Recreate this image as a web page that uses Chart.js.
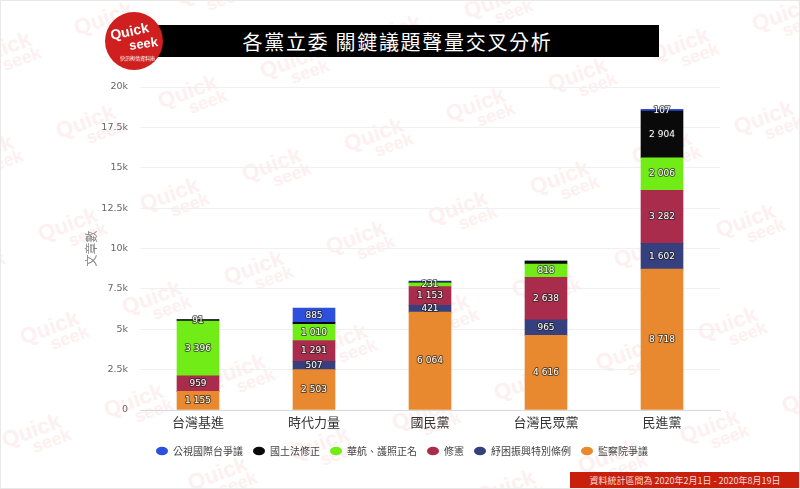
<!DOCTYPE html>
<html lang="zh-Hant">
<head>
<meta charset="utf-8">
<title>各黨立委 關鍵議題聲量交叉分析</title>
<script src="https://cdn.jsdelivr.net/npm/chart.js@4"></script>
<style>
    html, body { margin: 0; padding: 0; background: #ffffff; }
    #pagina {
        position: relative; width: 800px; height: 489px; overflow: hidden; background: #ffffff;
        font-family: "Noto Sans CJK TC", sans-serif;
    }
    #marcas { position: absolute; inset: 0; }
    .marca {
        position: absolute; width: 90px; height: 46px; transform: rotate(-20deg);
        font-family: "Liberation Sans", sans-serif; font-weight: bold; color: #fdf0f0; line-height: 17px;
    }
    .marca span { display: block; font-size: 22px; }
    .marca span + span { font-size: 18px; padding-left: 26px; }
    #grafico { position: absolute; left: 0; top: 0; }
    #barraTitulo {
        position: absolute; left: 150px; top: 25px; width: 509px; height: 32px; background: #000000;
        color: #ffffff; font-size: 20px; line-height: 34px; letter-spacing: 1.7px; text-align: center;
        text-indent: -14px; white-space: pre;
    }
    #logo {
        position: absolute; left: 105px; top: 12px; width: 58px; height: 58px; border-radius: 50%;
        background: #cf1f1f; color: #ffffff; font-family: "Liberation Sans", sans-serif; font-weight: bold;
    }
    #logo div { position: absolute; white-space: nowrap; }
    #logoQuick { left: 5px; top: 11px; font-size: 14px; transform: rotate(-12deg); }
    #logoSeek { left: 24px; top: 24px; font-size: 13px; transform: rotate(-8deg); }
    #logoSub { left: 15px; top: 42px; font-size: 5px; font-family: "Noto Sans CJK TC", sans-serif; font-weight: normal; }
    #periodo {
        position: absolute; left: 570px; top: 472px; width: 230px; height: 17px; background: #c8200c;
        color: #f6dcd6; font-family: "Noto Sans CJK TC", serif; font-size: 9px; line-height: 17px;
        text-align: center;
    }
    #bordas { position: absolute; inset: 0; border: 1px solid #e8e8e8; pointer-events: none; }
</style>
</head>
<body>
<div id="pagina">
    <div id="marcas"></div>
    <canvas id="grafico" width="800" height="489"></canvas>
    <div id="barraTitulo">各黨立委 關鍵議題聲量交叉分析</div>
    <div id="logo">
        <div id="logoQuick">Quick</div>
        <div id="logoSeek">seek</div>
        <div id="logoSub">快訊輿情資料庫</div>
    </div>
    <div id="periodo">資料統計區間為 2020年2月1日 - 2020年8月19日</div>
    <div id="bordas"></div>
</div>

<script>
/* Dados */
const categorias = ['台灣基進', '時代力量', '國民黨', '台灣民眾黨', '民進黨'];
const monitoria = [1155, 2503, 6064, 4616, 8718];
const alivio = [0, 507, 421, 965, 1602];
const constituicao = [959, 1291, 1153, 2638, 3282];
const companhia = [3396, 1010, 231, 818, 2006];
const territorio = [91, 115, 60, 190, 2904];
const televisao = [0, 885, 60, 0, 107];
const nomesSeries = ['監察院爭議', '紓困振興特別條例', '修憲', '華航、護照正名', '國土法修正', '公視國際台爭議'];
const coresSeries = ['#e8892f', '#36407f', '#a92c4d', '#72ec17', '#0a0a0a', '#2c4fdc'];
const marcasEixo = ['0', '2.5k', '5k', '7.5k', '10k', '12.5k', '15k', '17.5k', '20k'];
const semEtiqueta = ['國土法修正|時代力量', '國土法修正|國民黨', '公視國際台爭議|國民黨', '國土法修正|台灣民眾黨'];

/* Marca de água repetida por trás do gráfico */
function criarMarcas() {
    const marcas = document.getElementById('marcas');

    for (let i = -6; i <= 10; i++) {
        for (let j = -6; j <= 10; j++) {
            const x = 290 + i * 102 - j * 18 - 45;
            const y = 173 - i * 30 + j * 103 - 23;

            if (x < -90 || x > 800 || y < -46 || y > 489) continue;

            const marca = document.createElement('div');
            marca.className = 'marca';
            marca.style.left = x + 'px';
            marca.style.top = y + 'px';
            marca.innerHTML = '<span>Quick</span><span>seek</span>';
            marcas.appendChild(marca);
        }
    }
}

/* Etiquetas brancas com contorno dentro de cada segmento */
const etiquetasBarras = {
    id: 'etiquetasBarras',
    afterDatasetsDraw: function (chart) {
        const ctx = chart.ctx;

        ctx.save();
        ctx.font = '9px "DejaVu Sans"';
        ctx.textAlign = 'center';
        ctx.textBaseline = 'middle';
        ctx.lineJoin = 'round';

        chart.data.datasets.forEach(function (serie, s) {
            chart.getDatasetMeta(s).data.forEach(function (barra, c) {
                const valor = serie.data[c];

                if (!valor || semEtiqueta.includes(serie.label + '|' + categorias[c])) return;

                const texto = String(valor).replace(/\B(?=(\d{3})+$)/g, ' ');
                const y = (barra.y + barra.base) / 2;

                ctx.lineWidth = 2;
                ctx.strokeStyle = 'rgba(30,30,30,0.65)';
                ctx.strokeText(texto, barra.x, y);
                ctx.fillStyle = '#ffffff';
                ctx.fillText(texto, barra.x, y);
            });
        });

        ctx.restore();
    }
};

/* Gráfico de barras empilhadas */
function criarGrafico() {
    const valoresSeries = [monitoria, alivio, constituicao, companhia, territorio, televisao];

    new Chart(document.getElementById('grafico'), {
        type: 'bar',
        data: {
            labels: categorias,
            datasets: valoresSeries.map(function (valores, s) {
                return {
                    label: nomesSeries[s],
                    data: valores,
                    backgroundColor: coresSeries[s],
                    borderWidth: 0,
                    barThickness: 42
                };
            })
        },
        options: {
            responsive: false,
            animation: false,
            layout: {
                padding: { left: 84, right: 80, top: 87, bottom: 23 }
            },
            plugins: {
                legend: {
                    position: 'bottom',
                    reverse: true,
                    onClick: null,
                    labels: {
                        usePointStyle: true,
                        pointStyle: 'circle',
                        boxHeight: 6,
                        pointStyleWidth: 12,
                        padding: 10,
                        color: '#444444',
                        font: { family: '"Noto Sans CJK TC"', size: 10 }
                    }
                },
                tooltip: { enabled: false }
            },
            scales: {
                x: {
                    stacked: true,
                    grid: { display: false, drawTicks: false },
                    border: { color: '#d5d8df' },
                    ticks: {
                        color: '#333333',
                        padding: 4,
                        maxRotation: 0,
                        font: { family: '"Noto Sans CJK TC"', size: 13 }
                    },
                    afterFit: function (scale) {
                        scale.height = 26;
                    }
                },
                y: {
                    stacked: true,
                    min: 0,
                    max: 20000,
                    grid: { color: '#f0f0f0', drawTicks: false },
                    border: { display: false },
                    title: {
                        display: true,
                        text: '文章數',
                        color: '#888888',
                        padding: 0,
                        font: { family: '"Noto Sans CJK TC"', size: 12 }
                    },
                    ticks: {
                        stepSize: 2500,
                        padding: 12,
                        color: '#666666',
                        font: { family: '"DejaVu Sans"', size: 9.5 },
                        callback: function (valor) {
                            return marcasEixo[valor / 2500];
                        }
                    },
                    afterFit: function (scale) {
                        scale.width = 56;
                    }
                }
            }
        },
        plugins: [etiquetasBarras]
    });
}

criarMarcas();
criarGrafico();
</script>
</body>
</html>
